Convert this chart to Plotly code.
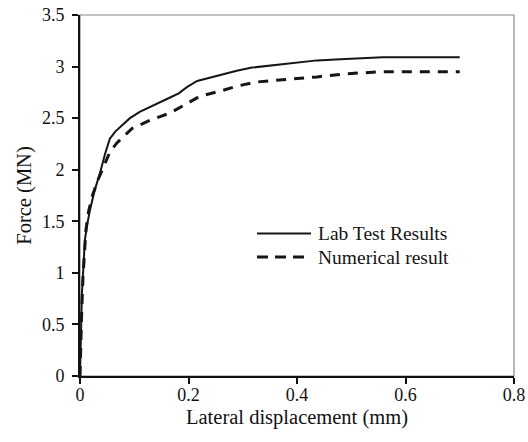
import plotly.graph_objects as go

lab_x = [0, 0.001, 0.002, 0.0035, 0.0055, 0.009, 0.013, 0.018, 0.027, 0.037, 0.046, 0.055, 0.065, 0.079, 0.092, 0.11, 0.129, 0.148, 0.166, 0.182, 0.197, 0.216, 0.245, 0.27, 0.289, 0.317, 0.35, 0.39, 0.437, 0.48, 0.516, 0.558, 0.62, 0.70]
lab_y = [0, 0.3, 0.55, 0.8, 0.98, 1.32, 1.46, 1.6, 1.8, 1.97, 2.15, 2.3, 2.37, 2.44, 2.5, 2.56, 2.61, 2.66, 2.7, 2.74, 2.8, 2.86, 2.9, 2.94, 2.96, 2.99, 3.01, 3.03, 3.06, 3.07, 3.08, 3.09, 3.09, 3.09]

num_x = [0, 0.001, 0.003, 0.0055, 0.008, 0.011, 0.016, 0.023, 0.033, 0.046, 0.055, 0.068, 0.082, 0.096, 0.129, 0.166, 0.197, 0.22, 0.257, 0.289, 0.325, 0.35, 0.4, 0.437, 0.49, 0.558, 0.62, 0.70]
num_y = [0, 0.25, 0.6, 0.96, 1.2, 1.42, 1.6, 1.75, 1.9, 2.05, 2.17, 2.26, 2.33, 2.4, 2.48, 2.55, 2.64, 2.71, 2.76, 2.81, 2.85, 2.86, 2.88, 2.9, 2.93, 2.95, 2.95, 2.95]

series_names = ["Lab Test Results", "Numerical result"]

x_ticks = [0, 0.2, 0.4, 0.6, 0.8]
y_ticks = [0, 0.5, 1, 1.5, 2, 2.5, 3, 3.5]

font = "Liberation Serif"
ink = "#151515"
dash = "10px,8px"

fig = go.Figure()
fig.add_trace(go.Scatter(x=lab_x, y=lab_y, mode="lines", name=series_names[0],
                         line=dict(color=ink, width=2), showlegend=False))
fig.add_trace(go.Scatter(x=num_x, y=num_y, mode="lines", name=series_names[1],
                         line=dict(color=ink, width=3, dash=dash), showlegend=False))

# manual legend (paper coordinates)
L, R, T, B = 80, 514, 15, 376
def px(xp): return (xp - L) / (R - L)
def py(yp): return (B - yp) / (B - T)

shapes = [dict(type="rect", xref="paper", yref="paper", x0=0, y0=0, x1=1, y1=1,
               line=dict(color="#888888", width=1.2), layer="below")]
annotations = []
leg_rows = [(233.5, dict(color=ink, width=2)), (257, dict(color=ink, width=3, dash="11px,7px"))]
for name, (yy, ln) in zip(series_names, leg_rows):
    shapes.append(dict(type="line", xref="paper", yref="paper", x0=px(257), x1=px(311),
                       y0=py(yy), y1=py(yy), line=ln))
    annotations.append(dict(xref="paper", yref="paper", x=px(316), y=py(yy), text=name,
                            showarrow=False, xanchor="left", yanchor="middle",
                            font=dict(family=font, size=19.5, color=ink)))

fig.update_layout(
    width=528, height=442,
    margin=dict(l=80, r=14, t=15, b=66),
    paper_bgcolor="white", plot_bgcolor="white",
    font=dict(family=font, size=17, color="#111111"),
    showlegend=False,
    shapes=shapes, annotations=annotations,
)
fig.update_xaxes(range=[0, 0.8], tickvals=x_ticks, ticktext=[f"{v:g}" for v in x_ticks],
                 showgrid=False, zeroline=False, showline=True, linecolor="#111111", linewidth=2,
                 ticks="outside", ticklen=6, tickwidth=1.5, tickcolor="#111111", automargin=False,
                 ticklabelstandoff=-5,
                 title=dict(text="Lateral displacement (mm)", font=dict(family=font, size=20.5), standoff=6),
                 tickfont=dict(family=font, size=18))
fig.update_yaxes(range=[0, 3.5], tickvals=y_ticks, ticktext=[f"{v:g}" for v in y_ticks],
                 showgrid=False, zeroline=False, showline=True, linecolor="#111111", linewidth=2,
                 ticks="outside", ticklen=6, tickwidth=1.5, tickcolor="#111111", automargin=False,
                 ticklabelstandoff=4,
                 title=dict(text="Force (MN)", font=dict(family=font, size=20.5), standoff=5),
                 tickfont=dict(family=font, size=18))

fig.write_html("out.html")
